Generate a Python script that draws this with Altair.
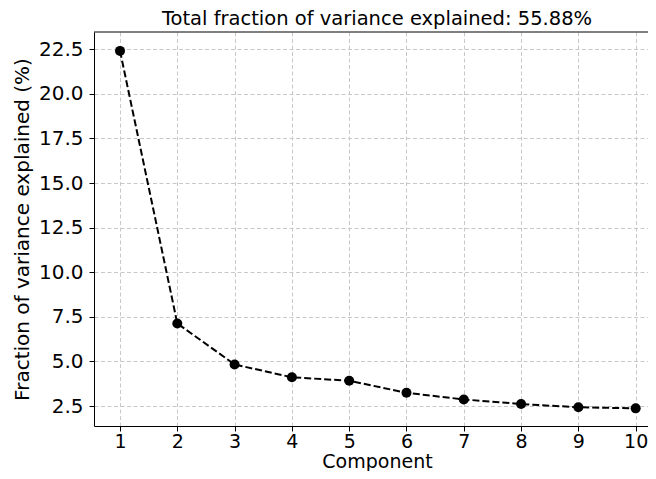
import altair as alt
import pandas as pd

components = [1, 2, 3, 4, 5, 6, 7, 8, 9, 10]
variance_pct = [22.41, 7.13, 4.83, 4.11, 3.92, 3.24, 2.87, 2.61, 2.43, 2.37]
x_ticks = [1, 2, 3, 4, 5, 6, 7, 8, 9, 10]
y_ticks = [2.5, 5.0, 7.5, 10.0, 12.5, 15.0, 17.5, 20.0, 22.5]
title_text = ["Total fraction of variance explained: 55.88%"]
x_title = "Component"
y_title = "Fraction of variance explained (%)"

W, H = 554, 394

df = pd.DataFrame({"Component": components, "Variance": variance_pct})

x = alt.X(
    "Component:Q",
    scale=alt.Scale(domain=[0.546, 10.215], nice=False, zero=False),
    axis=alt.Axis(values=x_ticks, format="d", title=x_title,
                  labelPadding=1, labelFontSize=19,
                  titleX=283, titleY=41, titleFontSize=19,
                  titleBaseline="alphabetic", titleAlign="center"),
)
y = alt.Y(
    "Variance:Q",
    scale=alt.Scale(domain=[1.38, 23.47], nice=False, zero=False),
    axis=alt.Axis(values=y_ticks, format=".1f", title=y_title,
                  labelPadding=6, titleX=-66, titleY=H / 2,
                  titleBaseline="alphabetic", titleAngle=270),
)

line = alt.Chart(df).mark_line(
    color="black", strokeDash=[7, 3], strokeWidth=2
).encode(x=x, y=y)

points = alt.Chart(df).mark_point(
    filled=True, color="black", size=100, opacity=1
).encode(x=x, y=y)

top_spine = alt.Chart(pd.DataFrame({"k": [0]})).mark_rule(
    color="black", strokeWidth=1
).encode(x=alt.value(0), x2=alt.value(W), y=alt.value(0))

title = alt.Chart(pd.DataFrame({"t": title_text})).mark_text(
    font="DejaVu Sans", fontSize=19.5, color="black",
    align="center", baseline="alphabetic"
).encode(text="t:N", x=alt.value(283), y=alt.value(-7))

chart = alt.layer(line, points, top_spine, title).properties(
    width=W,
    height=H,
    autosize=alt.AutoSizeParams(type="none"),
    padding={"left": 86, "top": 24, "right": 0, "bottom": 45},
).configure_view(stroke=None).configure_axis(
    labelFont="DejaVu Sans", labelFontSize=20, labelColor="black",
    titleFont="DejaVu Sans", titleFontSize=20, titleColor="black",
    titleFontWeight="normal",
    tickColor="black", tickSize=5, tickWidth=1,
    domainColor="black", domainWidth=1,
    gridColor="#c8c8c8", gridDash=[4, 2.5], gridWidth=1,
)

chart.save("out.html", embed_options={"renderer": "svg", "actions": False})
